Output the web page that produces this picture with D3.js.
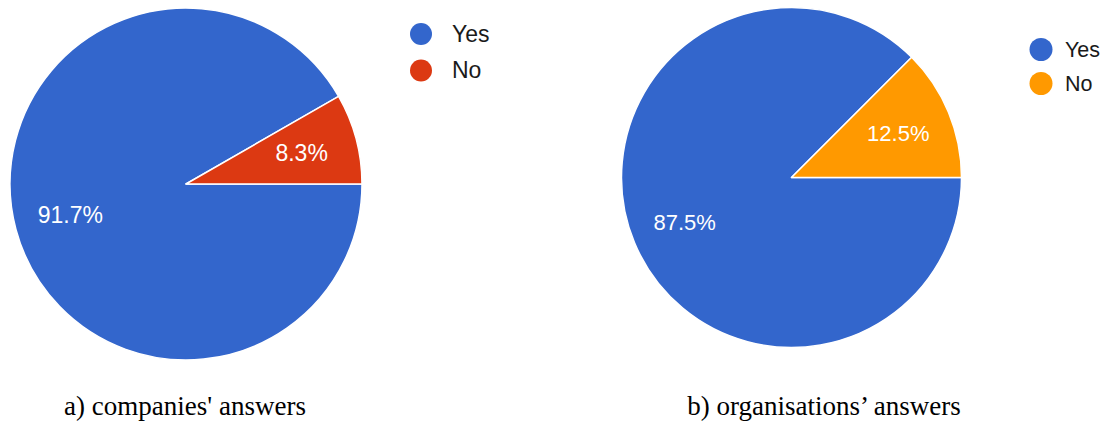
<!DOCTYPE html>
<html>
<head>
<meta charset="utf-8">
<script src="https://cdn.jsdelivr.net/npm/d3@7"></script>
<style>
  html, body { margin: 0; padding: 0; background: #ffffff; }
  svg { display: block; }
</style>
</head>
<body>
<svg id="chart" width="1107" height="423"></svg>
<script>
// Survey answers shown as two pie charts
const categories = ["Yes", "No"];
const companiesValues = [91.7, 8.3];
const organisationsValues = [87.5, 12.5];
const captions = ["a) companies' answers", "b) organisations\u2019 answers"];

const svg = d3.select("#chart");

const panels = [
  {
    values: companiesValues,
    colors: ["#3366cc", "#dc3912"],
    cx: 186, cy: 184, r: 176,
    labelSize: 23,
    legend: { cx: 421, y0: 34, step: 36.5, r: 11, textX: 452, size: 23, dy: 7.5 },
    caption: captions[0], capX: 185, capY: 415
  },
  {
    values: organisationsValues,
    colors: ["#3366cc", "#ff9900"],
    cx: 791.5, cy: 177.5, r: 170,
    labelSize: 22,
    legend: { cx: 1041, y0: 49.5, step: 34, r: 11.5, textX: 1065, size: 21.5, dy: 7.5 },
    caption: captions[1], capX: 824, capY: 415
  }
];

panels.forEach(p => {
  const data = categories.map((c, i) => ({ category: c, value: p.values[i], color: p.colors[i] }));

  // Slices start at 3 o'clock and run clockwise, leaving "No" just above the horizontal
  const pie = d3.pie()
    .value(d => d.value)
    .sort(null)
    .startAngle(Math.PI / 2)
    .endAngle(Math.PI / 2 + 2 * Math.PI);

  const arc = d3.arc().innerRadius(0).outerRadius(p.r);
  const labelArc = d3.arc().innerRadius(p.r * 0.68).outerRadius(p.r * 0.68);

  const g = svg.append("g").attr("transform", `translate(${p.cx},${p.cy})`);
  const arcs = pie(data);

  g.selectAll("path")
    .data(arcs)
    .join("path")
    .attr("d", arc)
    .attr("fill", d => d.data.color)
    .attr("stroke", "#ffffff")
    .attr("stroke-width", 1.5)
    .attr("stroke-linejoin", "round");

  g.selectAll("text.pct")
    .data(arcs)
    .join("text")
    .attr("class", "pct")
    .attr("transform", d => `translate(${labelArc.centroid(d)})`)
    .attr("text-anchor", "middle")
    .attr("dy", "0.36em")
    .attr("fill", "#ffffff")
    .style("font-family", "'Liberation Sans', Arial, sans-serif")
    .style("font-size", p.labelSize + "px")
    .text(d => d.data.value.toFixed(1) + "%");

  // Legend
  const lg = svg.append("g");
  const items = lg.selectAll("g")
    .data(data)
    .join("g")
    .attr("transform", (d, i) => `translate(0,${p.legend.y0 + i * p.legend.step})`);

  items.append("circle")
    .attr("cx", p.legend.cx)
    .attr("cy", 0)
    .attr("r", p.legend.r)
    .attr("fill", d => d.color);

  items.append("text")
    .attr("x", p.legend.textX)
    .attr("y", p.legend.dy)
    .attr("fill", "#1a1a1a")
    .style("font-family", "'Liberation Sans', Arial, sans-serif")
    .style("font-size", p.legend.size + "px")
    .text(d => d.category);

  // Caption under the pie
  svg.append("text")
    .attr("x", p.capX)
    .attr("y", p.capY)
    .attr("text-anchor", "middle")
    .attr("fill", "#000000")
    .style("font-family", "'Liberation Serif', 'Times New Roman', serif")
    .style("font-size", "27px")
    .text(p.caption);
});
</script>
</body>
</html>
